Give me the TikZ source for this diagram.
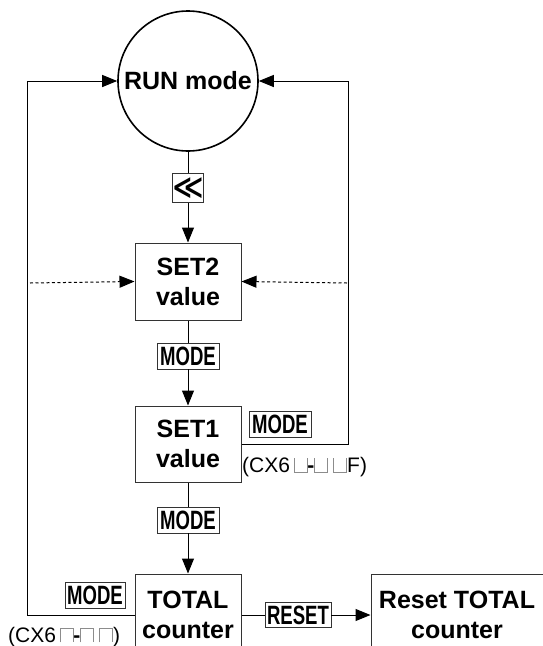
\documentclass[tikz,border=0pt]{standalone}
\usepackage{fontspec}
\setmainfont{Liberation Sans}
\newfontfamily\narrowfont[FakeStretch=0.7]{Liberation Sans}
\newfontfamily\dejavu{DejaVu Sans}
\usetikzlibrary{arrows.meta}
\newcommand{\ubox}{\tikz[baseline=0pt]\draw[black!45,line width=0.9pt] (0pt,14pt) -- (0pt,0pt) -- (13pt,0pt) -- (13pt,14pt);}
\newcommand{\nbox}{\tikz[baseline=0pt]\draw[black!45,line width=0.9pt] (0pt,0pt) -- (0pt,14pt) -- (13pt,14pt) -- (13pt,0pt);}
\begin{document}
\begin{tikzpicture}[x=1pt,y=-1pt,
  box/.style={draw=black!80,line width=1pt,rectangle,minimum width=106pt,align=center,font=\fontsize{25}{30}\selectfont\bfseries,inner sep=0pt},
  keybox/.style={draw=black!80,line width=0.9pt,rectangle,inner sep=1pt,font=\narrowfont\fontsize{26.5}{26}\selectfont\bfseries,minimum height=26pt},
  arr/.style={-{Triangle[length=15pt,width=12pt]},line width=1pt},
  ln/.style={line width=1pt},
  lbl/.style={font=\fontsize{21}{24}\selectfont,inner sep=0pt,anchor=west}]
\clip (0,0) rectangle (543,646);
\node[circle,draw=black,line width=1.6pt,minimum size=140pt,inner sep=0pt,font=\fontsize{25}{30}\selectfont\bfseries] (run) at (188,81) {RUN mode};
\node[draw=black!80,line width=0.9pt,minimum size=29pt,inner sep=0pt,font=\dejavu\bfseries\fontsize{30}{30}\selectfont] (kl) at (188,188) {≪};
\node[box,minimum height=77pt] (set2) at (188,281.5) {SET2\\value};
\node[keybox,minimum width=62pt] (m1) at (188,356) {MODE};
\node[box,minimum height=76pt] (set1) at (188,444) {SET1\\value};
\node[keybox,minimum width=62pt] (m2) at (280,424.5) {MODE};
\node[lbl] (cx1) at (242,467) {(CX6\,\ubox\textbf{-}\ubox\hspace{5pt}\ubox F)};
\node[keybox,minimum width=62pt] (m3) at (188,520) {MODE};
\node[box,minimum height=82pt] (tot) at (188,615) {TOTAL\\counter};
\node[keybox,minimum width=60pt] (m4) at (95,595) {MODE};
\node[lbl] (cx2) at (8,637) {(CX6\,\nbox\textbf{-}\nbox\hspace{5pt}\nbox)};
\node[keybox,minimum width=66pt,minimum height=25pt] (rs) at (298,615) {RESET};
\node[box,minimum width=172pt,minimum height=82pt] (rt) at (457,615) {Reset TOTAL\\counter};
\coordinate (lx) at (27,0);
\coordinate (rx) at (348,0);
\coordinate (dl) at (30,283);
\coordinate (dr) at (347,283);
\draw[ln] (run.south) -- (kl.north);
\draw[arr] (kl.south) -- (set2.north);
\draw[ln] (set2.south) -- (m1.north);
\draw[arr] (m1.south) -- (set1.north);
\draw[ln] (set1.south) -- (m3.north);
\draw[arr] (m3.south) -- (tot.north);
\draw[ln] (tot.east) -- (rs.west);
\draw[arr] (rs.east) -- (rt.west);
\draw[arr] (tot.west) -- (tot.west -| lx) -- (run.west -| lx) -- (run.west);
\draw[arr] (set1.east) -- (set1.east -| rx) -- (run.east -| rx) -- (run.east);
\draw[arr,dash pattern=on 3pt off 2.5pt] (dl) -- (set2.west);
\draw[arr,dash pattern=on 3pt off 2.5pt] (dr) -- (set2.east);
\end{tikzpicture}
\end{document}
